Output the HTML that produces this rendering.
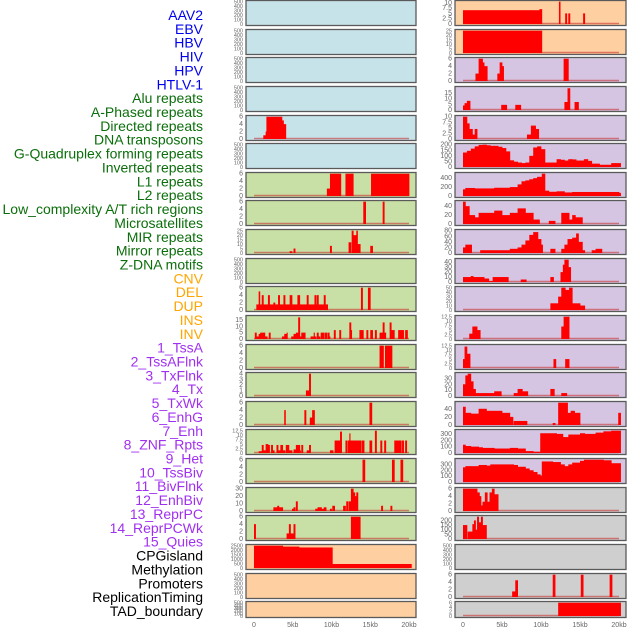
<!DOCTYPE html>
<html><head><meta charset="utf-8"><style>
html,body{margin:0;padding:0;background:#fff;width:630px;height:630px;overflow:hidden}
svg{display:block;font-family:"Liberation Sans",sans-serif}
</style></head><body>
<svg id="chart" width="630" height="630"></svg>
<script>
const labels=["AAV2","EBV","HBV","HIV","HPV","HTLV-1","Alu repeats","A-Phased repeats","Directed repeats","DNA transposons","G-Quadruplex forming repeats","Inverted repeats","L1 repeats","L2 repeats","Low_complexity A/T rich regions","Microsatellites","MIR repeats","Mirror repeats","Z-DNA motifs","CNV","DEL","DUP","INS","INV","1_TssA","2_TssAFlnk","3_TxFlnk","4_Tx","5_TxWk","6_EnhG","7_Enh","8_ZNF_Rpts","9_Het","10_TssBiv","11_BivFlnk","12_EnhBiv","13_ReprPC","14_ReprPCWk","15_Quies","CPGisland","Methylation","Promoters","ReplicationTiming","TAD_boundary"];
const labelGroups=[6,13,5,15,5];
const groupColors=["#0000ee","#0b6e0b","#ffa500","#a030f0","#000000"];
const xTicks=[0,5,10,15,20];
const xTickLabels=["0","5kb","10kb","15kb","20kb"];
const T500=[0,100,200,300,400,500],T6=[0,2,4,6];
const leftTicks=[T500,T500,T500,T500,T6,T500,T6,T6,[0,5,10,15,20,25],T500,T6,[0,5,10,15],T6,[0,1,2,3,4],T6,[0,2.5,5,7.5,10,12.5],T6,[0,10,20,30],T6,[0,500,1000,1500,2000,2500],T500,T500];
const leftMax=[500,500,500,500,6,500,6,6,25,500,6,17.5,6,4,6,12.5,6,30,6,2500,500,500];
const rightTicks=[[0,2.5,5,7.5,10],[0,5,10,15,20,25],T6,[0,5,10,15],[0,2.5,5,7.5,10],[0,50,100,150,200],[0,200,400],[0,20,40],[0,20,40,60,80],[0,10,20,30,40],[0,10,20,30,40,50],[0,2.5,5,7.5,10,12.5],[0,2.5,5,7.5,10,12.5],[0,10,20,30],[0,20,40],[0,100,200,300],[0,100,200,300],T6,[0,50,100,150,200],T500,T6,T6];
const rightMax=[10.5,25,6,19.5,10,200,500,50,80,45,50,12.5,12.5,38,55,350,380,6,240,500,6,6];
const leftBg=["#c7e3ea","#c7e3ea","#c7e3ea","#c7e3ea","#c7e3ea","#c7e3ea","#c8e0a5","#c8e0a5","#c8e0a5","#c8e0a5","#c8e0a5","#c8e0a5","#c8e0a5","#c8e0a5","#c8e0a5","#c8e0a5","#c8e0a5","#c8e0a5","#c8e0a5","#fecfa0","#fecfa0","#fecfa0"];
const rightBg=["#fecfa0","#fecfa0","#d5c5e2","#d5c5e2","#d5c5e2","#d5c5e2","#d5c5e2","#d5c5e2","#d5c5e2","#d5c5e2","#d5c5e2","#d5c5e2","#d5c5e2","#d5c5e2","#d5c5e2","#d5c5e2","#d5c5e2","#cfcfcf","#cfcfcf","#cfcfcf","#cfcfcf","#cfcfcf"];
// segments [startKb, endKb, value]
const L4=[[1.2,1.5,1],[1.5,1.6,2],[1.6,3.6,6],[3.6,3.8,5],[3.8,4.1,4]];
const L6=[[9.4,9.8,2],[9.8,11.2,6],[11.8,12.8,6],[15.1,20,6]];
const L7=[[14.1,14.4,6],[16.6,16.8,6]];
const L8=[[4.6,4.9,2],[5.1,5.3,5],[9.8,10.0,8],[12.2,12.5,12],[12.6,12.8,25],[12.8,13.2,20],[13.2,13.35,25],[13.35,13.7,10],[15.0,15.3,8]];
const L10=[[0.3,9.5,1.5],[0.6,0.75,5],[1.0,1.2,4],[1.8,2.0,4],[2.5,2.7,2],[3.1,3.3,4],[3.8,4.0,4],[4.6,4.9,4],[5.6,5.9,4],[6.8,7.0,4],[7.8,8.0,4],[8.1,8.3,4],[9.0,9.2,4],[13.8,14.0,6],[14.7,15.0,6]];
const L11=[[0.1,0.3,5],[0.3,0.6,2],[0.6,0.8,4],[0.8,1.4,5],[1.4,1.7,2],[1.9,2.1,5],[3.6,3.9,2],[3.9,4.2,4],[4.2,4.3,5],[4.8,5.1,2],[5.1,5.4,4],[5.4,5.7,5],[5.7,5.9,17],[5.9,6.1,2],[6.1,6.6,5],[7.3,7.7,2],[7.7,7.8,5],[7.8,8.0,2],[8.1,8.3,5],[8.3,8.5,2],[8.6,9.0,5],[9.1,9.4,5],[9.5,9.7,5],[9.7,9.8,2],[10.3,10.5,7],[11.0,11.2,7],[12.3,12.5,13],[12.5,12.6,7],[13.6,14.1,7],[14.5,14.7,7],[15.0,15.3,7],[15.6,15.8,7],[16.2,16.6,5],[16.6,16.8,13],[16.8,17.0,5],[17.5,17.7,13],[17.7,18.1,7],[18.6,19.3,7],[19.5,19.8,7]];
const L12=[[16.2,16.7,6],[16.9,17.3,6],[17.3,17.8,6]];
const L13=[[6.7,7.1,1],[7.1,7.3,4]];
const L14=[[3.9,4.05,4],[6.5,6.7,4],[7.2,7.5,2],[7.5,7.8,4],[14.9,15.2,6]];
const L15=[[0.6,1.0,1],[1.0,1.2,4.5],[1.2,1.5,1.5],[1.5,1.8,5],[1.8,2.0,4.5],[2.2,2.4,4.5],[2.4,2.6,1.5],[2.9,3.1,4.5],[3.1,3.4,1.5],[3.4,3.7,4.5],[3.7,4.0,1.5],[4.1,4.5,4.5],[4.5,4.9,1.5],[5.1,5.4,2],[5.4,5.9,4.5],[5.9,6.0,1.5],[6.1,6.3,4.5],[6.8,7.1,1.5],[7.1,7.3,4.5],[9.8,10.2,1.5],[10.4,11.1,7],[11.1,11.3,12],[11.8,12.0,7],[12.1,12.3,7],[12.3,12.4,11],[12.4,13.8,7],[13.9,14.2,7],[14.9,15.2,7],[15.6,15.8,12.5],[16.3,16.5,7],[16.8,17.0,7],[18.1,19.0,7],[19.1,19.3,7],[19.5,19.7,7]];
const L16=[[14.0,14.3,6],[17.8,18.1,6],[18.9,19.2,6]];
const L17=[[2.5,3.0,5],[3.0,3.2,7],[3.2,3.7,5],[4.9,5.1,3],[5.1,5.3,5],[5.4,5.6,13],[7.9,8.2,3],[8.2,8.7,5],[8.7,9.0,3],[9.0,9.3,5],[9.8,10.0,3],[10.1,10.4,7],[11.5,11.8,7],[11.9,12.1,13],[12.2,12.5,13],[12.5,12.8,30],[12.8,13.0,25],[13.0,13.2,20],[13.2,13.4,25],[16.4,16.6,7],[17.6,17.8,7]];
const L18=[[0,0.2,4],[4.2,4.5,1.5],[4.5,4.7,4],[4.7,5.1,1.5],[5.1,5.3,4],[12.5,13.7,6]];
const L19=[[0,3.7,2500],[3.7,5.8,2400],[5.8,10.1,2300],[10.1,20.3,450]];
const R0=[[0,9.8,6.5],[9.8,10.1,7],[12.3,12.45,10.5],[13.1,13.3,5],[13.5,13.7,5],[15.4,15.6,5]];
const R1=[[0,10.1,25]];
const R2=[[1.6,2.0,2],[2.0,2.5,6],[2.5,2.7,5],[2.7,3.1,4],[4.4,4.7,2],[4.7,5.0,5],[5.0,5.2,4],[12.9,13.5,6]];
const R3=[[0,0.2,4],[0.2,0.5,6],[0.5,0.9,8],[4.9,5.6,4.5],[6.7,7.4,4.5],[13.0,13.4,7],[13.4,13.7,19],[14.3,14.8,7]];
const R4=[[0,0.5,10],[0.5,0.8,7],[0.8,1.2,4.5],[1.2,1.5,2],[1.5,1.8,4.5],[8.2,8.7,2],[8.7,9.3,6],[9.3,9.7,4.5]];
const R5=[[0,0.5,130],[0.5,1,145],[1,1.5,165],[1.5,2,185],[2,2.5,198],[2.5,3,200],[3,3.5,195],[3.5,4,190],[4,4.5,190],[4.5,5,182],[5,5.5,170],[5.5,6,140],[6,6.5,60],[6.5,7,48],[7,7.5,40],[7.5,8,35],[8,8.5,40],[8.5,9,100],[9,9.5,175],[9.5,10,185],[10,10.5,160],[10.5,11,40],[11,11.5,40],[11.5,12,40],[12,12.5,70],[12.5,13,65],[13,13.5,58],[13.5,14,70],[14,14.5,68],[14.5,15,58],[15,15.5,58],[15.5,16,70],[16,16.5,55],[16.5,17,30],[17,17.5,30],[17.5,18,20],[18,18.5,20],[18.5,19,20],[19,19.5,35],[19.5,20.2,35]];
const R6=[[0,0.3,150],[0.3,1.5,180],[1.5,4,170],[4,6,185],[6,7,200],[7,7.5,260],[7.5,8,330],[8,8.5,350],[8.5,9,375],[9,9.5,400],[9.5,10.1,430],[10.1,10.5,500],[10.5,11,120],[11,12,95],[12,13,105],[13,14,80],[14,20,90],[20,20.2,70]];
const R7=[[0,0.3,50],[0.3,0.8,40],[0.8,1.5,20],[1.5,2,15],[2,4,25],[4,5,30],[5,6,20],[6,7,25],[7,8,35],[8,9,25],[9,9.8,10],[11,11.8,7],[12.6,13.6,25],[13.6,14,10],[14,14.4,20],[14.4,15.3,15]];
const R8=[[0,0.3,20],[0.3,1.1,30],[2.2,6,10],[6,7,15],[7,7.5,20],[7.5,8,30],[8,8.5,45],[8.5,9,65],[9,9.6,75],[9.6,10,50],[10,10.2,30],[11.2,11.8,15],[12.6,13,15],[13,13.4,30],[13.4,14,50],[14,14.5,55],[14.5,14.8,70],[14.8,15.3,40],[15.3,15.6,10],[16.5,17,10],[17,17.8,15]];
const R9=[[0,1,10],[1,1.3,12],[1.3,2.7,10],[2.7,3.3,7],[3.3,3.8,2],[3.8,5.8,10],[7.4,8.1,5],[11.2,11.6,10],[12.5,12.8,20],[12.8,13.0,35],[13.0,13.5,45],[13.5,13.8,30]];
const R10=[[11.2,12.2,15],[12.2,12.6,30],[12.6,13.1,50],[13.1,13.6,45],[13.6,14.0,50],[14.0,15.0,15],[15.0,15.6,10]];
const R11=[[0.8,1.2,3],[1.2,1.8,7],[1.8,2.2,5],[12.6,12.9,7],[12.9,13.6,12.5]];
const R12=[[0,0.2,5],[0.2,0.5,12],[0.5,0.9,8],[11.6,11.9,5],[13.1,13.6,5]];
const R13=[[0,0.3,20],[0.3,0.6,35],[0.6,1.0,38],[1.0,1.3,25],[1.3,1.6,12],[1.6,4.0,5],[4.0,4.9,8],[6.5,7.0,5],[7.0,7.6,12],[7.6,8.3,8],[11.2,11.7,12],[12.6,13.3,5]];
const R14=[[0,0.3,45],[0.3,1,30],[1,2,28],[2,3,40],[3,5,35],[5,6,30],[6,6.4,20],[6.5,8.2,10],[11.5,11.8,5],[12.2,13.4,55],[13.4,13.8,30],[13.8,14.3,35],[14.3,15,30],[19.9,20.2,30]];
const R15=[[0,0.3,130],[0.3,1,110],[1,2,100],[2,2.5,90],[2.5,4,80],[4,6,70],[6,7,80],[7,8,70],[8,9,30],[9,9.9,20],[9.9,12,310],[12,12.8,300],[12.8,13.5,250],[13.5,15,290],[15,15.6,310],[15.6,17,300],[17,18,320],[18,19,340],[19,20.2,350]];
const R16=[[0,0.3,250],[0.3,2,270],[2,3,290],[3,3.5,280],[3.5,6.5,300],[6.5,7,290],[7,8,260],[8,8.5,230],[8.5,9,200],[9,9.5,170],[9.5,9.9,130],[9.9,10.1,110],[10.1,11.5,350],[11.5,12.5,340],[12.5,13,300],[13,13.5,270],[13.5,14,300],[14,15,330],[15,15.5,360],[15.5,18,380],[18,19,370],[19,20.2,320]];
const R17=[[0,1.8,6],[1.8,2.1,5],[2.1,2.3,4],[2.3,2.5,1.5],[2.5,2.8,2.5],[2.8,3.1,5],[3.1,3.4,2.5],[3.4,3.7,5],[3.7,4.0,6],[4.0,4.5,4.5]];
const R18=[[0,0.5,150],[0.6,1.2,80],[1.2,1.4,160],[1.4,1.6,200],[1.6,1.8,100],[1.8,2.0,240],[2.0,2.3,180],[2.3,2.5,240],[2.5,3.0,150]];
const R20=[[6.3,6.7,1.5],[6.7,7.0,4.5],[11.5,11.8,6],[15.1,15.4,6],[18.8,19.1,6]];
const R21=[[12.2,20.2,6]];
const leftData=[[],[],[],[],L4,[],L6,L7,L8,[],L10,L11,L12,L13,L14,L15,L16,L17,L18,L19,[],[]];
const rightData=[R0,R1,R2,R3,R4,R5,R6,R7,R8,R9,R10,R11,R12,R13,R14,R15,R16,R17,R18,[],R20,R21];

const NS="http://www.w3.org/2000/svg";
const svg=document.getElementById('chart');
function el(tag,attrs,parent){const e=document.createElementNS(NS,tag);for(const k in attrs)e.setAttribute(k,attrs[k]);(parent||svg).appendChild(e);return e;}
let li=0;
labelGroups.forEach((n,g)=>{for(let j=0;j<n;j++){const t=el('text',{x:203,y:15+li*13.86+5,'text-anchor':'end','font-size':14,fill:groupColors[g]});t.textContent=labels[li];


li++;}});
const cols=[{x0:246,x1:416,z:254,s:7.75,data:leftData,ticks:leftTicks,max:leftMax,bg:leftBg,side:'left'},
{x0:455,x1:626,z:463,s:7.8,data:rightData,ticks:rightTicks,max:rightMax,bg:rightBg,side:'right'}];
for(let i=0;i<22;i++){
  const top=Math.round(i*28.63)+0.5, h=(i===21?16:25);
  cols.forEach(c=>{
    const g=el('g',{});
    
    
    el('rect',{x:c.x0,y:top,width:c.x1-c.x0,height:h,fill:c.bg[i],stroke:'#5a5a5a','stroke-width':1.3},g);
    const base=top+h-1.5, ytop=top+1.2, ymax=c.max[i];
    const ys=v=>base-(v/ymax)*(base-ytop);
    const xs=k=>c.z+k*c.s;
    const fs=(c.ticks[i].length>5||h<20)?5.5:7;
    c.ticks[i].forEach(tv=>{const t=el('text',{x:c.x0-3,y:ys(tv)+2,'text-anchor':'end','font-size':fs,fill:'#666'},g);t.textContent=String(tv);
      
      });
    const d=c.data[i];
    if(d.length){
      const bl=el('line',{x1:xs(0),x2:xs(20),y1:base-0.5,y2:base-0.5,stroke:'rgba(200,40,40,0.55)','stroke-width':1.5},g);
      
      
    }
    d.forEach(s=>{const r=el('rect',{x:xs(s[0]),y:ys(s[2]),width:Math.max(0.8,xs(s[1])-xs(s[0])+0.4),height:base-ys(s[2]),fill:'#ff0000'},g);
      
      });
  });
}
cols.forEach(c=>{xTicks.forEach((k,j)=>{const t=el('text',{x:c.z+k*c.s,y:627,'text-anchor':'middle','font-size':7,fill:'#666'});t.textContent=xTickLabels[j];
  
  });});
</script>
</body></html>
